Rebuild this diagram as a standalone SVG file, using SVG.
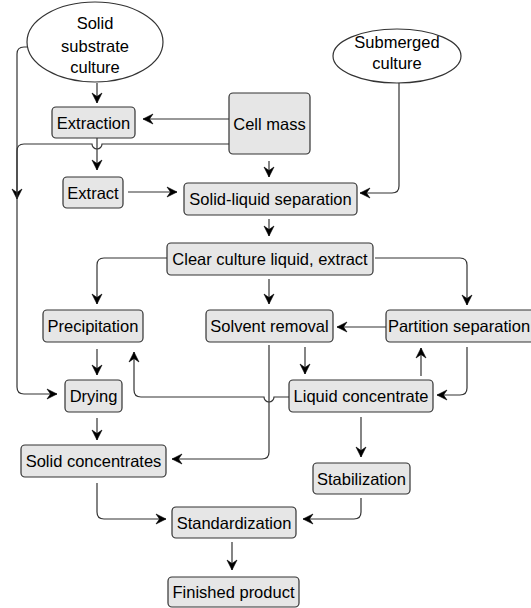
<svg xmlns="http://www.w3.org/2000/svg" width="531" height="608" viewBox="0 0 531 608">
  <style>
    .box { fill: #e6e6e6; stroke: #333333; stroke-width: 1.2; }
    .oval { fill: #ffffff; stroke: #333333; stroke-width: 1.2; }
    .lbl { font-family: "Liberation Sans", Arial, sans-serif; font-size: 16.5px; fill: #000000; text-anchor: middle; }
    .edge { fill: none; stroke: #333333; stroke-width: 1.2; }
    .arrow { marker-end: url(#head); }
  </style>
  <defs>
    <marker id="head" markerUnits="userSpaceOnUse" markerWidth="14" markerHeight="12" viewBox="-11 -6 12 12" refX="0" refY="0" orient="auto">
      <path d="M0,0 L-10,-5 L-6.5,0 L-10,5 Z" fill="#000000" stroke="#000000" stroke-width="0.6" stroke-linejoin="round"/>
    </marker>
  </defs>

  <!-- connectors -->
  <g id="connectors">
    <path class="edge arrow" d="M97,83 V103"/>
    <path class="edge arrow" d="M28,47 H24 Q17,47 17,54 V199"/>
    <path class="edge arrow" d="M229,119 H143"/>
    <path class="edge arrow" d="M229,144 H102 A5,5 0 0 1 92,144 H24 Q17,144 17,151 V387 Q17,394 24,394 H57"/>
    <path class="edge arrow" d="M97,138 V170"/>
    <path class="edge arrow" d="M128,192 H177"/>
    <path class="edge arrow" d="M269,161 V177"/>
    <path class="edge arrow" d="M399,83 V186 Q399,193 392,193 H360"/>
    <path class="edge arrow" d="M269,219 V236"/>
    <path class="edge arrow" d="M167,258 H104 Q97,258 97,265 V304"/>
    <path class="edge arrow" d="M375,258 H460 Q467,258 467,265 V305"/>
    <path class="edge arrow" d="M269,279 V304"/>
    <path class="edge arrow" d="M386,327 H337"/>
    <path class="edge arrow" d="M305,347 V374"/>
    <path class="edge arrow" d="M421,376 V348"/>
    <path class="edge arrow" d="M467,347 V388 Q467,395 460,395 H437"/>
    <path class="edge arrow" d="M289,397 H274 A5,5 0 0 1 264,397 H141 Q134,397 134,390 V352"/>
    <path class="edge arrow" d="M97,349 V375"/>
    <path class="edge arrow" d="M269,345 V452 Q269,459 262,459 H172"/>
    <path class="edge arrow" d="M97,418 V440"/>
    <path class="edge arrow" d="M361,417 V457"/>
    <path class="edge arrow" d="M97,483 V512 Q97,519 104,519 H166"/>
    <path class="edge arrow" d="M361,498 V512 Q361,519 354,519 H303"/>
    <path class="edge arrow" d="M232,542 V570"/>
  </g>

  <!-- nodes -->
  <g id="solid-substrate-culture">
    <ellipse class="oval" cx="95" cy="42" rx="68" ry="40"/>
    <text class="lbl" x="95" y="29">Solid</text>
    <text class="lbl" x="95" y="52">substrate</text>
    <text class="lbl" x="95" y="73">culture</text>
  </g>
  <g id="submerged-culture">
    <ellipse class="oval" cx="397" cy="56" rx="64" ry="27"/>
    <text class="lbl" x="397" y="48">Submerged</text>
    <text class="lbl" x="397" y="69">culture</text>
  </g>
  <g id="extraction">
    <rect class="box" x="52" y="107" width="83" height="31" rx="4"/>
    <text class="lbl" x="93.5" y="128.5">Extraction</text>
  </g>
  <g id="cell-mass">
    <rect class="box" x="229" y="93" width="81" height="61" rx="4"/>
    <text class="lbl" x="269.5" y="129.5">Cell mass</text>
  </g>
  <g id="extract">
    <rect class="box" x="63" y="177" width="60" height="31" rx="4"/>
    <text class="lbl" x="93" y="198.5">Extract</text>
  </g>
  <g id="solid-liquid-separation">
    <rect class="box" x="184" y="183" width="173" height="32" rx="4"/>
    <text class="lbl" x="270.5" y="205">Solid-liquid separation</text>
  </g>
  <g id="clear-culture-liquid">
    <rect class="box" x="167" y="243" width="206" height="32" rx="4"/>
    <text class="lbl" x="270" y="265">Clear culture liquid, extract</text>
  </g>
  <g id="precipitation">
    <rect class="box" x="43" y="310" width="100" height="32" rx="4"/>
    <text class="lbl" x="93" y="332">Precipitation</text>
  </g>
  <g id="solvent-removal">
    <rect class="box" x="206" y="310" width="127" height="32" rx="4"/>
    <text class="lbl" x="269.5" y="332">Solvent removal</text>
  </g>
  <g id="partition-separation">
    <rect class="box" x="386" y="310" width="156" height="32" rx="4"/>
    <text class="lbl" x="459" y="332">Partition separation</text>
  </g>
  <g id="drying">
    <rect class="box" x="65" y="380" width="57" height="32" rx="4"/>
    <text class="lbl" x="93.5" y="402">Drying</text>
  </g>
  <g id="liquid-concentrate">
    <rect class="box" x="289" y="380" width="144" height="32" rx="4"/>
    <text class="lbl" x="361" y="402">Liquid concentrate</text>
  </g>
  <g id="solid-concentrates">
    <rect class="box" x="21" y="445" width="145" height="32" rx="4"/>
    <text class="lbl" x="93.5" y="467">Solid concentrates</text>
  </g>
  <g id="stabilization">
    <rect class="box" x="313" y="463" width="97" height="31" rx="4"/>
    <text class="lbl" x="361.5" y="484.5">Stabilization</text>
  </g>
  <g id="standardization">
    <rect class="box" x="172" y="507" width="124" height="31" rx="4"/>
    <text class="lbl" x="234" y="528.5">Standardization</text>
  </g>
  <g id="finished-product">
    <rect class="box" x="168" y="577" width="131" height="30" rx="4"/>
    <text class="lbl" x="233.5" y="598">Finished product</text>
  </g>
</svg>
